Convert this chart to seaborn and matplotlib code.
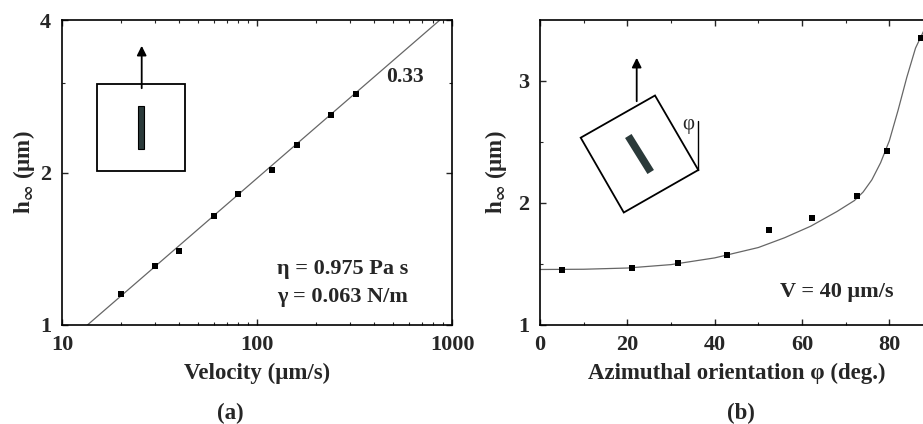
import matplotlib
matplotlib.use("Agg")
import matplotlib.pyplot as plt
from matplotlib.patches import Rectangle, Polygon
from matplotlib.ticker import FixedLocator, NullFormatter
import numpy as np
import seaborn as sns

# panel (a): h_inf vs velocity (log-log)
velocity = [20, 30, 40, 60, 80, 120, 160, 240, 320]
h_vel = [1.15, 1.31, 1.40, 1.64, 1.81, 2.02, 2.27, 2.60, 2.86]
fit_v = [13.5, 900]
fit_h = [1.0, 4.05]

# panel (b): h_inf vs azimuthal orientation
phi = [5, 21, 31.6, 42.9, 52.5, 62.2, 72.5, 79.5, 87.3]
h_phi = [1.452, 1.471, 1.512, 1.57, 1.78, 1.877, 2.054, 2.424, 3.356]
curve_phi = [0, 10, 20, 30, 40, 50, 56, 62, 68, 72, 74, 76, 78, 80, 82, 84, 86, 88, 90]
curve_h = [1.455, 1.457, 1.467, 1.495, 1.55, 1.635, 1.715, 1.81, 1.93, 2.02, 2.09, 2.19, 2.33, 2.51, 2.76, 3.03, 3.27, 3.42, 3.50]

sns.set_style("ticks")
plt.rcParams['font.family'] = ['Liberation Serif', 'DejaVu Serif']
plt.rcParams['font.weight'] = 'bold'
plt.rcParams['axes.labelweight'] = 'bold'
plt.rcParams['mathtext.fontset'] = 'stix'
plt.rcParams['xtick.direction'] = 'in'
plt.rcParams['ytick.direction'] = 'in'
plt.rcParams['xtick.top'] = True
plt.rcParams['ytick.right'] = True

W, H = 923, 424
fig = plt.figure(figsize=(W / 100, H / 100), dpi=100)
fs = 16.5
tfs = 16

ax1 = fig.add_axes([62 / W, 99 / H, 390 / W, 305 / H])
ax2 = fig.add_axes([540 / W, 99 / H, 393 / W, 305 / H])

# ---- (a)
sns.lineplot(x=fit_v, y=fit_h, ax=ax1, color='0.4', lw=0.9)
sns.scatterplot(x=velocity, y=h_vel, ax=ax1, marker='s', s=18, color='black',
                edgecolor='black', linewidth=0, zorder=3)
ax1.set_xscale('log')
ax1.set_yscale('log', base=2)
ax1.set_xlim(10, 1000)
ax1.set_ylim(1, 4)
ax1.set_xticks([10, 100, 1000])
ax1.set_xticklabels(['10', '100', '1000'])
ax1.set_yticks([1, 2, 4])
ax1.set_yticklabels(['1', '2', '4'])
ax1.yaxis.set_minor_locator(FixedLocator([3]))
ax1.yaxis.set_minor_formatter(NullFormatter())
ax1.xaxis.set_minor_formatter(NullFormatter())
ax1.set_xlabel('Velocity (μm/s)', fontsize=fs, labelpad=6)
ax1.set_ylabel(r'h$_{\infty}$ (μm)', fontsize=fs, labelpad=2)
ax1.text(0.879, 0.813, '0.33', transform=ax1.transAxes, ha='center', va='center', fontsize=15.5)
ax1.text(0.552, 0.184, 'η = 0.975 Pa s', transform=ax1.transAxes, ha='left', va='center', fontsize=16)
ax1.text(0.552, 0.092, 'γ = 0.063 N/m', transform=ax1.transAxes, ha='left', va='center', fontsize=16)

# ---- (b)
sns.lineplot(x=curve_phi, y=curve_h, ax=ax2, color='0.4', lw=0.9)
sns.scatterplot(x=phi, y=h_phi, ax=ax2, marker='s', s=18, color='black',
                edgecolor='black', linewidth=0, zorder=3)
ax2.set_xlim(0, 90)
ax2.set_ylim(1, 3.5)
ax2.set_xticks([0, 20, 40, 60, 80])
ax2.set_yticks([1, 2, 3])
ax2.xaxis.set_minor_locator(FixedLocator([10, 30, 50, 70]))
ax2.yaxis.set_minor_locator(FixedLocator([1.5, 2.5]))
ax2.set_xlabel('Azimuthal orientation φ (deg.)', fontsize=fs, labelpad=6)
ax2.set_ylabel(r'h$_{\infty}$ (μm)', fontsize=fs, labelpad=6)
ax2.text(0.755, 0.108, 'V = 40 μm/s', transform=ax2.transAxes, ha='center', va='center', fontsize=16)

for ax in (ax1, ax2):
    ax.tick_params(which='major', length=4, width=1, labelsize=tfs)
    ax.tick_params(axis='x', which='major', pad=7)
    ax.tick_params(axis='y', which='major', pad=8)
    ax.tick_params(which='minor', length=2.5, width=0.8)
    for s in ax.spines.values():
        s.set_linewidth(1.2)
        s.set_color('black')
    ax.set_facecolor('none')

fig.text(230 / W, 1 - 413 / H, '(a)', ha='center', va='center', fontsize=fs)
fig.text(741 / W, 1 - 413 / H, '(b)', ha='center', va='center', fontsize=fs)

# ---- sketches (figure pixel coordinates)
ov = fig.add_axes([0, 0, 1, 1], zorder=5)
ov.set_xlim(0, W)
ov.set_ylim(H, 0)
ov.axis('off')
ov.patch.set_alpha(0)

ov.add_patch(Rectangle((97.3, 84), 87.7, 86.7, fill=False, ec='black', lw=1.3))
ov.add_patch(Rectangle((137.7, 106), 6.6, 43, fc='#2b3a3a', ec='black', lw=0.8))
ov.annotate('', xy=(141.7, 43), xytext=(141.7, 91),
            arrowprops=dict(arrowstyle='-|>', color='black', lw=1.3, mutation_scale=14))

ov.add_patch(Polygon([(655, 95.5), (580.7, 137.7), (623.8, 212.5), (698.3, 170)],
                     closed=True, fill=False, ec='black', lw=1.3))
ov.plot([628.3, 650.7], [136, 172], color='#2b3a3a', lw=5.5, solid_capstyle='butt')
ov.annotate('', xy=(636.7, 55), xytext=(636.7, 104),
            arrowprops=dict(arrowstyle='-|>', color='black', lw=1.3, mutation_scale=14))
ov.plot([698.3, 698.3], [170, 121], color='black', lw=1.0)
ov.text(688, 125, 'φ', ha='center', va='center', fontsize=15, fontweight='normal')

fig.savefig('out.png', dpi=100)
